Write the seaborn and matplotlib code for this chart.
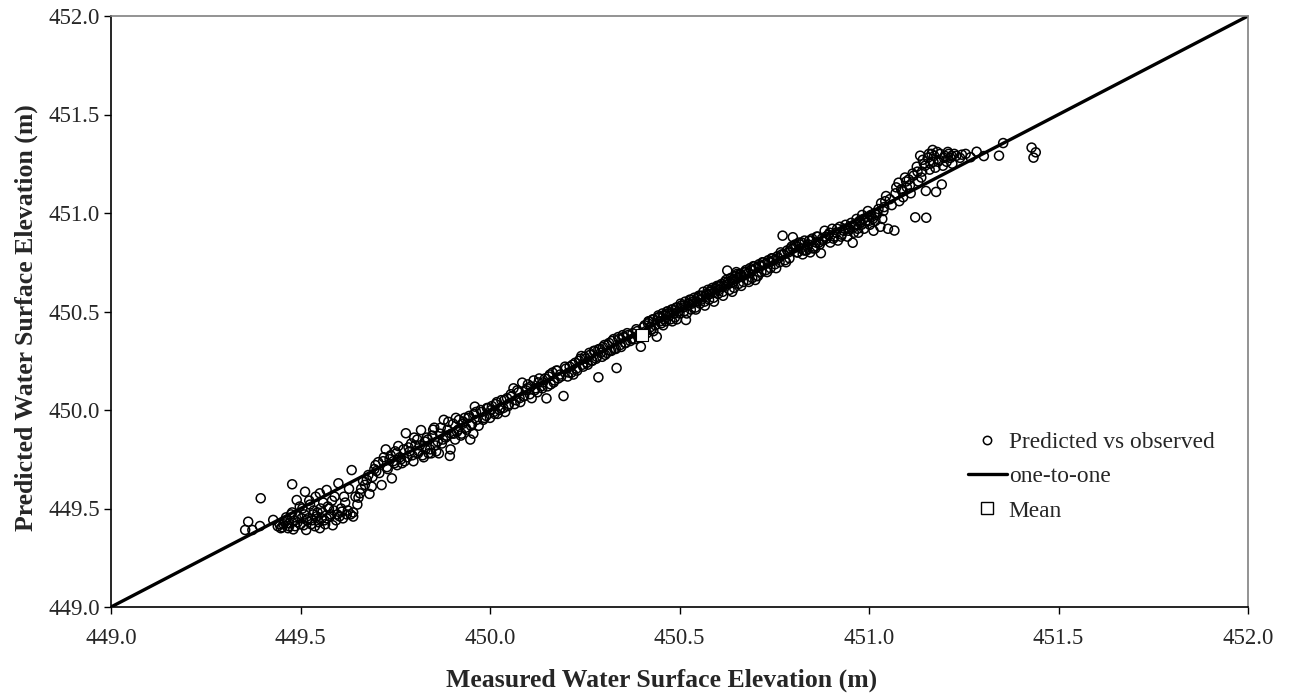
import numpy as np
import pandas as pd
import matplotlib
matplotlib.use("Agg")
import matplotlib.pyplot as plt
import seaborn as sns
from matplotlib.lines import Line2D

# ---------------- data ----------------
measured_a = [
    449.354, 449.362, 449.373, 449.393, 449.395, 449.428, 449.445, 449.452, 449.458, 449.462,
    449.467, 449.470, 449.475, 449.478, 449.481, 449.485, 449.490, 449.494, 449.500, 449.505,
    449.508, 449.512, 449.515, 449.520, 449.525, 449.530, 449.533, 449.538, 449.540, 449.545,
    449.551, 449.551, 449.556, 449.560, 449.565, 449.569, 449.569, 449.575, 449.580, 449.585,
    449.590, 449.594, 449.600, 449.603, 449.607, 449.609, 449.612, 449.618, 449.622, 449.628,
    449.635, 449.639, 449.639, 449.645, 449.650, 449.653, 449.657, 449.665, 449.675, 449.679]
predicted_a = [
    449.391, 449.433, 449.391, 449.411, 449.552, 449.442, 449.420, 449.405, 449.430, 449.455,
    449.400, 449.410, 449.470, 449.623, 449.394, 449.440, 449.543, 449.460, 449.420, 449.500,
    449.415, 449.585, 449.391, 449.450, 449.520, 449.440, 449.470, 449.410, 449.560, 449.480,
    449.577, 449.400, 449.450, 449.530, 449.420, 449.594, 449.450, 449.500, 449.470, 449.415,
    449.560, 449.440, 449.628, 449.460, 449.500, 449.484, 449.450, 449.530, 449.470, 449.600,
    449.695, 449.459, 449.480, 449.560, 449.520, 449.555, 449.577, 449.640, 449.645, 449.670]
measured_a2 = [
    449.440, 449.448, 449.455, 449.463, 449.470, 449.478, 449.486, 449.492, 449.498, 449.503,
    449.510, 449.517, 449.523, 449.528, 449.535, 449.542, 449.548, 449.553, 449.558, 449.563,
    449.572, 449.578, 449.583, 449.588, 449.597, 449.615, 449.625, 449.632, 449.660, 449.670]
predicted_a2 = [
    449.410, 449.400, 449.420, 449.440, 449.425, 449.480, 449.410, 449.430, 449.510, 449.450,
    449.470, 449.440, 449.540, 449.420, 449.490, 449.460, 449.430, 449.500, 449.480, 449.440,
    449.510, 449.460, 449.540, 449.490, 449.470, 449.560, 449.490, 449.470, 449.600, 449.620]

measured_b = [
    449.682, 449.688, 449.695, 449.700, 449.705, 449.714, 449.720, 449.725, 449.730, 449.735,
    449.741, 449.745, 449.750, 449.755, 449.758, 449.762, 449.768, 449.772, 449.778, 449.782,
    449.788, 449.792, 449.798, 449.803, 449.808, 449.812, 449.818, 449.822, 449.828, 449.833,
    449.838, 449.842, 449.848, 449.853, 449.858, 449.862, 449.868, 449.873, 449.878, 449.883,
    449.888, 449.894, 449.898, 449.903, 449.908, 449.913, 449.918, 449.923, 449.928, 449.933,
    449.938, 449.943, 449.948, 449.953, 449.958, 449.960, 449.965, 449.970, 449.978, 449.985]
predicted_b = [
    449.574, 449.611, 449.700, 449.690, 449.735, 449.619, 449.760, 449.800, 449.700, 449.750,
    449.653, 449.740, 449.790, 449.720, 449.817, 449.760, 449.730, 449.800, 449.882, 449.760,
    449.790, 449.830, 449.740, 449.820, 449.850, 449.790, 449.898, 449.770, 449.840, 449.860,
    449.780, 449.800, 449.870, 449.910, 449.790, 449.840, 449.880, 449.830, 449.950, 449.860,
    449.900, 449.767, 449.880, 449.930, 449.850, 449.890, 449.950, 449.870, 449.930, 449.960,
    449.900, 449.960, 449.850, 449.930, 449.980, 450.017, 449.950, 449.920, 449.990, 449.960]
measured_b2 = [
    449.690, 449.698, 449.708, 449.718, 449.728, 449.738, 449.748, 449.753, 449.765, 449.775,
    449.785, 449.795, 449.800, 449.810, 449.815, 449.825, 449.830, 449.836, 449.845, 449.850,
    449.856, 449.865, 449.870, 449.876, 449.885, 449.890, 449.896, 449.905, 449.910, 449.916,
    449.925, 449.930, 449.936, 449.945, 449.950, 449.956, 449.963, 449.975, 449.982, 449.992]
predicted_b2 = [
    449.660, 449.720, 449.680, 449.740, 449.710, 449.770, 449.730, 449.780, 449.750, 449.740,
    449.810, 449.770, 449.860, 449.780, 449.820, 449.760, 449.800, 449.850, 449.780, 449.900,
    449.820, 449.780, 449.910, 449.850, 449.870, 449.940, 449.800, 449.880, 449.960, 449.900,
    449.880, 449.940, 449.910, 449.970, 449.920, 449.880, 449.990, 450.000, 449.950, 450.010]

measured_c = [
    449.990, 449.995, 450.000, 450.005, 450.010, 450.015, 450.020, 450.025, 450.030, 450.035,
    450.040, 450.045, 450.050, 450.055, 450.062, 450.068, 450.075, 450.080, 450.085, 450.090,
    450.095, 450.100, 450.105, 450.110, 450.115, 450.120, 450.125, 450.130, 450.135, 450.140,
    450.149, 450.155, 450.160, 450.165, 450.170, 450.175, 450.180, 450.185, 450.194, 450.200,
    450.205, 450.210, 450.215, 450.220, 450.225, 450.230, 450.235, 450.241, 450.246, 450.252,
    450.258, 450.264, 450.270, 450.276, 450.282, 450.286, 450.286, 450.292, 450.298, 450.304,
    450.310, 450.316, 450.322, 450.328, 450.334, 450.340, 450.346, 450.352, 450.358, 450.364,
    450.370, 450.376, 450.382, 450.388, 450.394, 450.398]
predicted_c = [
    449.970, 450.010, 449.960, 450.020, 449.990, 450.030, 449.980, 450.000, 450.050, 450.010,
    449.990, 450.060, 450.030, 450.080, 450.110, 450.050, 450.090, 450.040, 450.139, 450.070,
    450.100, 450.130, 450.080, 450.060, 450.150, 450.110, 450.090, 450.160, 450.120, 450.140,
    450.059, 450.170, 450.130, 450.190, 450.150, 450.200, 450.160, 450.180, 450.071, 450.210,
    450.170, 450.220, 450.190, 450.180, 450.240, 450.200, 450.250, 450.274, 450.220, 450.260,
    450.230, 450.280, 450.250, 450.300, 450.270, 450.166, 450.308, 450.290, 450.320, 450.280,
    450.330, 450.300, 450.350, 450.310, 450.213, 450.360, 450.320, 450.370, 450.340, 450.380,
    450.350, 450.390, 450.360, 450.400, 450.370, 450.321]
measured_c2 = [
    450.003, 450.012, 450.018, 450.028, 450.038, 450.048, 450.058, 450.065, 450.072, 450.078,
    450.088, 450.098, 450.108, 450.118, 450.128, 450.138, 450.145, 450.152, 450.158, 450.168,
    450.178, 450.188, 450.198, 450.208, 450.218, 450.228, 450.238, 450.244, 450.250, 450.256,
    450.262, 450.268, 450.274, 450.280, 450.290, 450.296, 450.302, 450.308, 450.314, 450.320,
    450.326, 450.332, 450.338, 450.344, 450.350, 450.356, 450.362, 450.374, 450.386, 450.392]
predicted_c2 = [
    450.000, 449.980, 450.040, 450.010, 450.050, 450.020, 450.070, 450.030, 450.100, 450.060,
    450.070, 450.110, 450.120, 450.100, 450.140, 450.110, 450.160, 450.120, 450.180, 450.140,
    450.200, 450.170, 450.220, 450.190, 450.230, 450.210, 450.260, 450.230, 450.270, 450.240,
    450.290, 450.250, 450.300, 450.260, 450.310, 450.270, 450.330, 450.290, 450.340, 450.300,
    450.360, 450.310, 450.370, 450.330, 450.380, 450.340, 450.390, 450.360, 450.410, 450.380]

measured_d = [
    450.402, 450.408, 450.414, 450.420, 450.426, 450.432, 450.440, 450.446, 450.452, 450.458,
    450.464, 450.470, 450.476, 450.482, 450.488, 450.494, 450.500, 450.506, 450.512, 450.517,
    450.524, 450.530, 450.536, 450.542, 450.548, 450.554, 450.560, 450.566, 450.572, 450.578,
    450.584, 450.590, 450.596, 450.602, 450.608, 450.614, 450.620, 450.626, 450.632, 450.638,
    450.644, 450.650, 450.656, 450.662, 450.668, 450.674, 450.680, 450.686, 450.692, 450.698,
    450.704, 450.710, 450.716, 450.722, 450.728, 450.734, 450.740, 450.746, 450.752, 450.758,
    450.764, 450.770, 450.772, 450.778, 450.784, 450.790, 450.796, 450.799]
predicted_d = [
    450.380, 450.430, 450.390, 450.450, 450.410, 450.460, 450.372, 450.470, 450.440, 450.480,
    450.450, 450.490, 450.460, 450.510, 450.470, 450.520, 450.490, 450.530, 450.500, 450.457,
    450.540, 450.510, 450.550, 450.520, 450.570, 450.540, 450.580, 450.550, 450.590, 450.560,
    450.610, 450.570, 450.620, 450.590, 450.630, 450.600, 450.650, 450.708, 450.610, 450.660,
    450.620, 450.680, 450.640, 450.690, 450.650, 450.700, 450.660, 450.720, 450.670, 450.730,
    450.680, 450.740, 450.700, 450.750, 450.710, 450.760, 450.720, 450.770, 450.740, 450.780,
    450.750, 450.790, 450.885, 450.760, 450.810, 450.770, 450.830, 450.877]
measured_d2 = [
    450.405, 450.411, 450.417, 450.423, 450.429, 450.436, 450.443, 450.449, 450.455, 450.461,
    450.467, 450.473, 450.479, 450.485, 450.491, 450.497, 450.503, 450.509, 450.515, 450.521,
    450.527, 450.533, 450.539, 450.545, 450.551, 450.557, 450.563, 450.569, 450.575, 450.581,
    450.587, 450.593, 450.599, 450.605, 450.611, 450.617, 450.623, 450.629, 450.635, 450.641,
    450.647, 450.653, 450.659, 450.665, 450.671, 450.677, 450.689, 450.701, 450.713, 450.725,
    450.737, 450.749, 450.761, 450.775, 450.787]
predicted_d2 = [
    450.420, 450.400, 450.440, 450.420, 450.460, 450.430, 450.470, 450.450, 450.490, 450.460,
    450.500, 450.480, 450.510, 450.490, 450.520, 450.500, 450.540, 450.520, 450.550, 450.530,
    450.560, 450.540, 450.570, 450.550, 450.580, 450.560, 450.600, 450.580, 450.610, 450.590,
    450.620, 450.600, 450.630, 450.610, 450.640, 450.630, 450.660, 450.640, 450.670, 450.650,
    450.680, 450.670, 450.690, 450.680, 450.700, 450.690, 450.710, 450.720, 450.730, 450.740,
    450.750, 450.760, 450.770, 450.790, 450.800]
measured_d3 = [
    450.418, 450.431, 450.444, 450.457, 450.469, 450.481, 450.493, 450.505, 450.519, 450.531,
    450.543, 450.555, 450.567, 450.579, 450.591, 450.603, 450.615, 450.627, 450.639, 450.651,
    450.663, 450.675, 450.683, 450.695, 450.707, 450.719, 450.731, 450.743, 450.755, 450.767,
    450.781, 450.793, 450.812, 450.822, 450.832, 450.842, 450.852, 450.862, 450.650, 450.700]
predicted_d3 = [
    450.450, 450.400, 450.480, 450.430, 450.500, 450.450, 450.460, 450.530, 450.490, 450.560,
    450.510, 450.580, 450.530, 450.600, 450.550, 450.630, 450.580, 450.650, 450.600, 450.690,
    450.630, 450.710, 450.650, 450.730, 450.680, 450.750, 450.700, 450.770, 450.720, 450.800,
    450.750, 450.820, 450.800, 450.850, 450.810, 450.860, 450.820, 450.880, 450.700, 450.660]

measured_e = [
    450.805, 450.810, 450.815, 450.820, 450.825, 450.830, 450.835, 450.840, 450.845, 450.850,
    450.855, 450.860, 450.865, 450.870, 450.873, 450.878, 450.883, 450.888, 450.893, 450.898,
    450.903, 450.908, 450.913, 450.918, 450.923, 450.928, 450.933, 450.938, 450.943, 450.948,
    450.953, 450.957, 450.962, 450.967, 450.972, 450.977, 450.982, 450.987, 450.992, 450.997,
    451.002, 451.007, 451.012, 451.017, 451.022, 451.030, 451.035, 451.040, 451.045, 451.050]
predicted_e = [
    450.840, 450.800, 450.850, 450.820, 450.790, 450.860, 450.810, 450.840, 450.800, 450.870,
    450.830, 450.850, 450.880, 450.840, 450.796, 450.860, 450.910, 450.870, 450.890, 450.850,
    450.920, 450.880, 450.900, 450.860, 450.930, 450.890, 450.910, 450.940, 450.880, 450.920,
    450.950, 450.849, 450.930, 450.970, 450.900, 450.950, 450.990, 450.920, 450.960, 451.010,
    450.940, 450.980, 450.910, 450.960, 451.000, 450.930, 450.970, 451.030, 451.086, 450.920]
measured_e2 = [
    450.800, 450.808, 450.818, 450.828, 450.838, 450.848, 450.858, 450.868, 450.876, 450.886,
    450.896, 450.906, 450.916, 450.926, 450.936, 450.946, 450.951, 450.960, 450.965, 450.970,
    450.975, 450.980, 450.985, 450.990, 450.995, 451.000, 451.005, 451.010, 451.015, 451.020,
    451.025, 451.032, 451.038, 451.043, 451.055]
predicted_e2 = [
    450.820, 450.830, 450.840, 450.810, 450.830, 450.860, 450.820, 450.850, 450.870, 450.880,
    450.900, 450.870, 450.920, 450.880, 450.920, 450.910, 450.930, 450.900, 450.940, 450.920,
    450.960, 450.940, 450.970, 450.950, 450.980, 450.960, 450.990, 450.970, 451.000, 450.990,
    451.020, 451.050, 451.010, 451.060, 451.070]

measured_f = [
    451.060, 451.067, 451.070, 451.078, 451.080, 451.085, 451.090, 451.095, 451.100, 451.105,
    451.110, 451.115, 451.122, 451.126, 451.130, 451.135, 451.140, 451.145, 451.150, 451.151,
    451.155, 451.160, 451.165, 451.168, 451.170, 451.175, 451.177, 451.180, 451.185, 451.192,
    451.195, 451.200, 451.205, 451.210, 451.215, 451.220, 451.230, 451.245, 451.268, 451.284,
    451.303, 451.343, 451.354, 451.429, 451.434, 451.440]
predicted_f = [
    451.040, 450.911, 451.100, 451.154, 451.060, 451.120, 451.080, 451.180, 451.130, 451.170,
    451.100, 451.200, 450.978, 451.235, 451.160, 451.291, 451.210, 451.250, 451.112, 450.976,
    451.280, 451.220, 451.300, 451.320, 451.260, 451.230, 451.107, 451.310, 451.270, 451.145,
    451.240, 451.290, 451.260, 451.300, 451.280, 451.250, 451.290, 451.296, 451.283, 451.311,
    451.289, 451.291, 451.355, 451.332, 451.281, 451.308]
measured_f2 = [
    451.072, 451.088, 451.098, 451.108, 451.118, 451.128, 451.138, 451.142, 451.148, 451.158,
    451.162, 451.172, 451.182, 451.188, 451.198, 451.208, 451.218, 451.225, 451.240, 451.255]
predicted_f2 = [
    451.130, 451.110, 451.160, 451.140, 451.190, 451.210, 451.180, 451.270, 451.240, 451.300,
    451.250, 451.290, 451.260, 451.300, 451.280, 451.310, 451.290, 451.300, 451.280, 451.300]

mean_measured = [450.40]
mean_predicted = [450.38]

one_to_one = [449.0, 452.0]
ticks = [449.0, 449.5, 450.0, 450.5, 451.0, 451.5, 452.0]

measured = (measured_a + measured_a2 + measured_b + measured_b2 + measured_c + measured_c2
            + measured_d + measured_d2 + measured_d3 + measured_e + measured_e2
            + measured_f + measured_f2)
predicted = (predicted_a + predicted_a2 + predicted_b + predicted_b2 + predicted_c + predicted_c2
             + predicted_d + predicted_d2 + predicted_d3 + predicted_e + predicted_e2
             + predicted_f + predicted_f2)
df = pd.DataFrame({"measured": measured, "predicted": predicted})

# ---------------- style ----------------
sns.set_style("white")
plt.rcParams["font.family"] = ["Liberation Serif", "DejaVu Serif"]
FS_LABEL = 18.5
FS_TICK = 16.5
FS_LEG = 16.8

fig = plt.figure(figsize=(12.89, 6.98), dpi=100)
ax = fig.add_axes([111 / 1289, 1 - 607 / 698, (1248 - 111) / 1289, (607 - 16) / 698])

sns.lineplot(x=one_to_one, y=one_to_one, color="black", linewidth=2.4, ax=ax,
             estimator=None, sort=False)
sns.scatterplot(data=df, x="measured", y="predicted", ax=ax, marker="o", s=42,
                facecolors="none", edgecolor="black", linewidth=1.1, zorder=3)
sns.scatterplot(x=mean_measured, y=mean_predicted, ax=ax, marker="s", s=80,
                color="white", edgecolor="black", linewidth=0.8, zorder=4)

ax.set_xlim(449.0, 452.0)
ax.set_ylim(449.0, 452.0)
ax.set_xticks(ticks)
ax.set_yticks(ticks)
ax.set_xticklabels([f"{t:.1f}" for t in ticks], fontsize=FS_TICK)
ax.set_yticklabels([f"{t:.1f}" for t in ticks], fontsize=FS_TICK)
ax.tick_params(axis="both", direction="out", length=5, width=1.0, color="black",
               bottom=True, left=True, top=False, right=False)
ax.tick_params(axis="x", pad=10)
ax.tick_params(axis="y", pad=3)

for side in ["left", "bottom"]:
    ax.spines[side].set_color("black")
    ax.spines[side].set_linewidth(1.2)
for side in ["top", "right"]:
    ax.spines[side].set_color("#808080")
    ax.spines[side].set_linewidth(1.2)
ax.grid(False)

ax.set_xlabel("Measured Water Surface Elevation (m)", fontsize=FS_LABEL, fontweight="bold")
ax.set_ylabel("Predicted Water Surface Elevation (m)", fontsize=FS_LABEL, fontweight="bold")
ax.xaxis.set_label_coords(0.4846, -0.105)
ax.yaxis.set_label_coords(-0.064, 0.489)

handles = [
    Line2D([], [], linestyle="none", marker="o", markersize=6, markerfacecolor="none",
           markeredgecolor="black", markeredgewidth=1.1),
    Line2D([], [], color="black", linewidth=2.4),
    Line2D([], [], linestyle="none", marker="s", markersize=8, markerfacecolor="white",
           markeredgecolor="black", markeredgewidth=1.0),
]
labels = ["Predicted vs observed", "one-to-one", "Mean"]
ax.legend(handles, labels, loc="upper left", bbox_to_anchor=(968 / 1289, 1 - 432 / 698),
          bbox_transform=fig.transFigure, frameon=False, fontsize=FS_LEG, handlelength=1.65,
          handletextpad=0.1, labelspacing=0.55, borderpad=0, borderaxespad=0)

fig.savefig("out.png", dpi=100)
